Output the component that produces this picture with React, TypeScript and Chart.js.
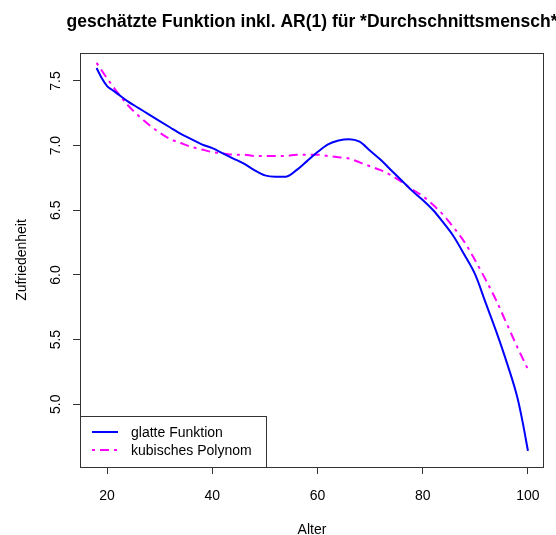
import { useEffect, useRef } from "react";
import { Chart, registerables } from "chart.js";

Chart.register(...registerables);

// ---- data ----
const smoothAges = [18, 19, 20, 21, 22, 24, 26, 28, 30, 32, 34, 36, 38, 40, 42, 44, 46, 48, 50, 52, 54, 56, 58, 60, 62, 64, 66, 68, 70, 72, 74, 76, 78, 80, 82, 84, 86, 88, 90, 92, 94, 96, 98, 99, 100];
const smoothValues = [7.6, 7.52, 7.46, 7.43, 7.4, 7.34, 7.29, 7.24, 7.19, 7.14, 7.09, 7.05, 7.01, 6.98, 6.94, 6.9, 6.86, 6.81, 6.77, 6.76, 6.76, 6.81, 6.88, 6.95, 7.01, 7.04, 7.05, 7.03, 6.96, 6.89, 6.81, 6.73, 6.65, 6.58, 6.5, 6.4, 6.29, 6.15, 6.0, 5.78, 5.56, 5.32, 5.05, 4.86, 4.64];

const cubicAges = [18, 20, 22, 24, 26, 28, 30, 32, 34, 36, 38, 40, 42, 44, 46, 48, 50, 52, 54, 56, 58, 60, 62, 64, 66, 68, 70, 72, 74, 76, 78, 80, 82, 84, 86, 88, 90, 92, 94, 96, 98, 100];
const cubicValues = [7.64, 7.52, 7.41, 7.31, 7.23, 7.16, 7.1, 7.05, 7.02, 6.99, 6.97, 6.95, 6.94, 6.93, 6.93, 6.92, 6.92, 6.92, 6.92, 6.93, 6.93, 6.93, 6.92, 6.91, 6.9, 6.87, 6.84, 6.81, 6.77, 6.72, 6.66, 6.61, 6.54, 6.46, 6.36, 6.25, 6.11, 5.96, 5.8, 5.62, 5.44, 5.27];

const xTickValues = [20, 40, 60, 80, 100];
const yTickValues = [5.0, 5.5, 6.0, 6.5, 7.0, 7.5];

const titleText = "geschätzte Funktion inkl. AR(1) für *Durchschnittsmensch*";
const xAxisTitle = "Alter";
const yAxisTitle = "Zufriedenheit";
const legendLabels = ["glatte Funktion", "kubisches Polynom"];

const BLUE = "#0000FF";
const MAGENTA = "#FF00FF";
const FRAME = "#333333";
const FONT = '"Liberation Sans", Arial, sans-serif';
const DASH = [3, 5, 9, 5];

const framePlugin = {
  id: "rframe",
  afterDraw(chart: any) {
    const { ctx, chartArea: a } = chart;
    ctx.save();
    ctx.strokeStyle = FRAME;
    ctx.lineWidth = 1;
    ctx.setLineDash([]);
    ctx.strokeRect(a.left + 0.5, a.top + 0.5, a.right - a.left - 1, a.bottom - a.top);

    // title
    ctx.fillStyle = "#000";
    ctx.font = `bold 17.5px ${FONT}`;
    ctx.textAlign = "center";
    ctx.textBaseline = "alphabetic";
    ctx.fillText(titleText, (a.left + a.right) / 2, 26.5);

    // legend (bottom-left inside plot)
    const lx = a.left;
    const lw = 186;
    const lh = 51;
    const ly = a.bottom - lh;
    ctx.fillStyle = "#fff";
    ctx.fillRect(lx + 1, ly + 1, lw - 1, lh - 1);
    ctx.strokeStyle = FRAME;
    ctx.strokeRect(lx + 0.5, ly + 0.5, lw, lh);

    const rows = [
      { color: BLUE, dash: [] as number[], label: legendLabels[0], y: ly + 16 },
      { color: MAGENTA, dash: DASH, label: legendLabels[1], y: ly + 34 },
    ];
    ctx.font = `14px ${FONT}`;
    ctx.textAlign = "left";
    ctx.textBaseline = "middle";
    for (const r of rows) {
      ctx.strokeStyle = r.color;
      ctx.lineWidth = 2;
      ctx.setLineDash(r.dash);
      ctx.beginPath();
      ctx.moveTo(lx + 12, r.y);
      ctx.lineTo(lx + 38, r.y);
      ctx.stroke();
      ctx.fillStyle = "#000";
      ctx.fillText(r.label, lx + 51, r.y + 1);
    }
    ctx.restore();
  },
};

export default function App() {
  const ref = useRef<HTMLCanvasElement | null>(null);

  useEffect(() => {
    if (!ref.current) return;
    const chart = new Chart(ref.current, {
      type: "line",
      data: {
        datasets: [
          {
            label: legendLabels[0],
            data: smoothAges.map((x, i) => ({ x, y: smoothValues[i] })),
            borderColor: BLUE,
            borderWidth: 2,
            pointRadius: 0,
            cubicInterpolationMode: "monotone",
            fill: false,
          },
          {
            label: legendLabels[1],
            data: cubicAges.map((x, i) => ({ x, y: cubicValues[i] })),
            borderColor: MAGENTA,
            borderWidth: 2,
            borderDash: DASH,
            pointRadius: 0,
            cubicInterpolationMode: "monotone",
            fill: false,
          },
        ],
      },
      options: {
        animation: false,
        responsive: false,
        events: [],
        layout: { padding: { top: 53, right: 12, left: 0, bottom: 0 } },
        plugins: {
          legend: { display: false },
          title: { display: false },
          tooltip: { enabled: false },
        },
        scales: {
          x: {
            type: "linear",
            min: 14.85,
            max: 103.05,
            afterFit: (s: any) => {
              s.height = 68;
            },
            afterBuildTicks: (s: any) => {
              s.ticks = xTickValues.map((v) => ({ value: v }));
            },
            grid: {
              display: true,
              drawOnChartArea: false,
              drawTicks: true,
              tickLength: 7,
              color: FRAME,
            },
            border: { display: false },
            ticks: {
              color: "#000",
              font: { family: FONT, size: 14 },
              padding: 14,
              maxRotation: 0,
              minRotation: 0,
              callback: (v: any) => String(v),
            },
            title: {
              display: true,
              text: xAxisTitle,
              color: "#000",
              font: { family: FONT, size: 14, lineHeight: 1 },
              padding: { top: 0, bottom: -2 },
            },
          },
          y: {
            type: "linear",
            min: 4.515,
            max: 7.716,
            afterFit: (s: any) => {
              s.width = 80;
            },
            afterBuildTicks: (s: any) => {
              s.ticks = yTickValues.map((v) => ({ value: v }));
            },
            grid: {
              display: true,
              drawOnChartArea: false,
              drawTicks: true,
              tickLength: 7,
              color: FRAME,
            },
            border: { display: false },
            ticks: {
              color: "#000",
              font: { family: FONT, size: 14 },
              padding: 7,
              minRotation: 90,
              maxRotation: 90,
              crossAlign: "center",
              callback: (v: any) => Number(v).toFixed(1),
            },
            title: {
              display: true,
              text: yAxisTitle,
              color: "#000",
              font: { family: FONT, size: 14, lineHeight: 1.2 },
              padding: { top: 14, bottom: 0 },
            },
          },
        },
      } as any,
      plugins: [framePlugin],
    });
    return () => chart.destroy();
  }, []);

  return (
    <div style={{ position: "absolute", left: 0, top: 0, width: 556, height: 535, background: "#fff" }}>
      <canvas ref={ref} width={556} height={535} style={{ display: "block" }} />
    </div>
  );
}
